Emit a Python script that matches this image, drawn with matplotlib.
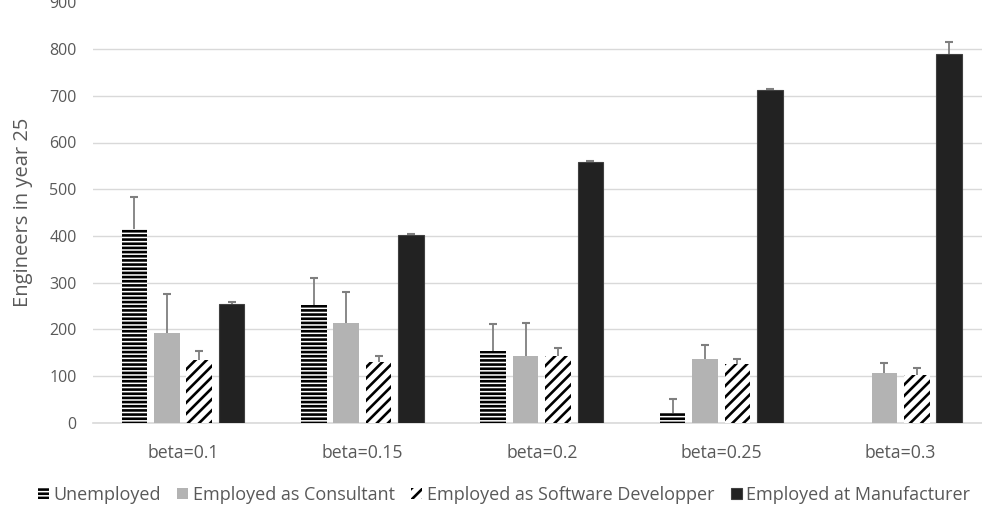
import numpy as np
import matplotlib
matplotlib.use("Agg")
import matplotlib.pyplot as plt
from matplotlib.patches import Patch

plt.rcParams['font.family'] = ['Open Sans', 'DejaVu Sans']
plt.rcParams['hatch.linewidth'] = 1.9

categories = ["beta=0.1", "beta=0.15", "beta=0.2", "beta=0.25", "beta=0.3"]
series_names = ["Unemployed", "Employed as Consultant",
                "Employed as Software Developper", "Employed at Manufacturer"]
unemployed = [414, 251, 154, 21, 0]
unemployed_err = [69, 59, 58, 30, 0]
consultant = [193, 214, 142, 136, 106]
consultant_err = [83, 66, 72, 30, 22]
software = [134, 129, 142, 126, 102]
software_err = [20, 13, 19, 11, 15]
manufacturer = [255, 402, 558, 712, 790]
manufacturer_err = [3, 3, 3, 2, 26]

values = [unemployed, consultant, software, manufacturer]
errors = [unemployed_err, consultant_err, software_err, manufacturer_err]
styles = [
    dict(facecolor='white', edgecolor='black', hatch='----', linewidth=0),
    dict(facecolor='#b3b3b3', edgecolor='#b3b3b3', linewidth=0),
    dict(facecolor='white', edgecolor='black', hatch='///', linewidth=0),
    dict(facecolor='#222222', edgecolor='#404040', linewidth=0.8),
]

W, H = 982, 514
fig = plt.figure(figsize=(W / 100, H / 100), dpi=100)
left_px, right_px = 93.3, 990.3
bottom_px, top_px = 422.7, 2.4
ax = fig.add_axes([left_px / W, 1 - bottom_px / H,
                   (right_px - left_px) / W, (bottom_px - top_px) / H])

x = np.arange(len(categories))
step = 0.1806
width = 0.142
for i, (vals, errs, st) in enumerate(zip(values, errors, styles)):
    pos = x + (i - 1.5) * step
    vals = np.array(vals, dtype=float)
    errs = np.array(errs, dtype=float)
    ax.bar(pos, vals, width, zorder=3, **st)
    mask = vals > 0
    ax.vlines(pos[mask], vals[mask], vals[mask] + errs[mask],
              colors='#7f7f7f', linewidth=1.3, zorder=4)
    ax.plot(pos[mask], vals[mask] + errs[mask], linestyle='none',
            marker='_', markersize=6, markeredgewidth=1.5,
            color='#7f7f7f', zorder=4)

ax.set_xlim(-0.5, len(categories) - 0.5)
ax.set_ylim(0, 900)
ax.set_yticks(range(0, 901, 100))
ax.set_xticks(x)
ax.set_xticklabels(categories)
ax.grid(axis='y', color='#d9d9d9', linewidth=1.0, zorder=0)
ax.set_axisbelow(True)
ax.yaxis.get_gridlines()[-1].set_visible(False)
for s in ['top', 'right', 'left']:
    ax.spines[s].set_visible(False)
ax.spines['bottom'].set_color('#d9d9d9')
ax.spines['bottom'].set_linewidth(1.2)
ax.tick_params(axis='both', length=0, labelcolor='#595959')
ax.tick_params(axis='x', pad=15, labelsize=12.7)
ax.tick_params(axis='y', pad=12, labelsize=11.5)
ax.set_ylabel("Engineers in year 25", fontsize=14.5, color='#595959', labelpad=12)

handles = [Patch(**st) for st in styles]
fig.legend(handles, series_names, loc='center', bbox_to_anchor=(504 / W, 1 - 495 / H),
           ncol=4, frameon=False, fontsize=13, labelcolor='#595959',
           handlelength=0.62, handleheight=0.62, handletextpad=0.25,
           columnspacing=0.9, borderpad=0)

fig.savefig("out.png", dpi=100)
